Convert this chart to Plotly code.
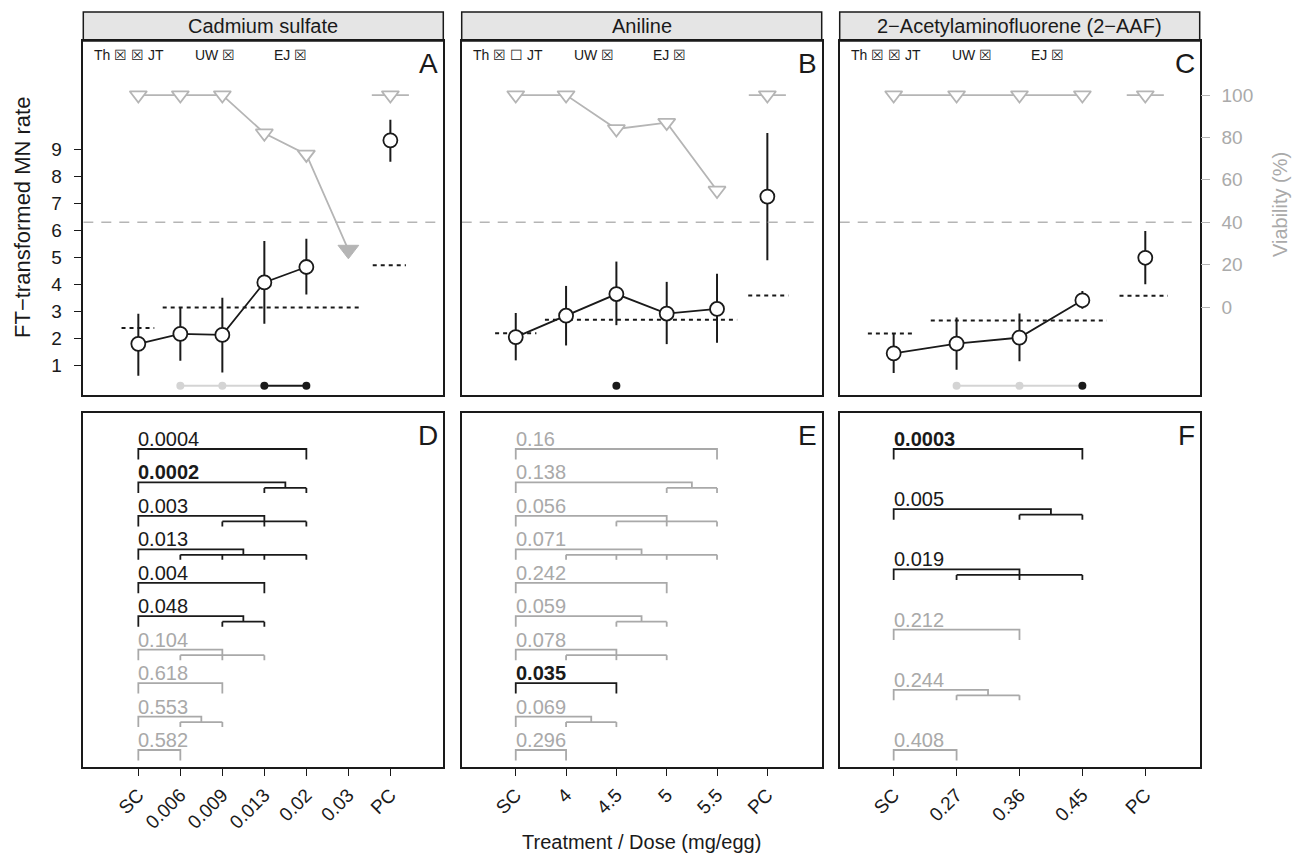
import plotly.graph_objects as go

# ---------------- data ----------------
compounds = ["Cadmium sulfate", "Aniline", "2−Acetylaminofluorene (2−AAF)"]
top_letters = ["A", "B", "C"]
bot_letters = ["D", "E", "F"]
lab_headers = [["Th ☒ ☒ JT", "UW ☒", "EJ ☒"],
               ["Th ☒ ☐ JT", "UW ☒", "EJ ☒"],
               ["Th ☒ ☒ JT", "UW ☒", "EJ ☒"]]

# Cadmium sulfate
cd_ticks = ["SC", "0.006", "0.009", "0.013", "0.02", "0.03", "PC"]
cd_mn = [1.81, 2.18, 2.14, 4.08, 4.65, None, 9.33]
cd_lo = [0.63, 1.19, 0.75, 2.55, 3.63, None, 8.54]
cd_hi = [2.92, 3.16, 3.51, 5.61, 5.69, None, 10.09]
cd_via = [100, 100, 100, 82, 72, 27, 100]
cd_lethal = [0, 0, 0, 0, 0, 1, 0]
cd_trend = ["", "ns", "ns", "sig", "sig", "", ""]
cd_ref_x0 = [0.60, 1.58, 6.58]
cd_ref_x1 = [1.38, 6.32, 7.37]
cd_ref_y = [2.40, 3.15, 4.71]
cd_p = ["0.0004", "0.0002", "0.003", "0.013", "0.004", "0.048", "0.104", "0.618", "0.553", "0.582"]
cd_p_val = [0.0004, 0.0002, 0.003, 0.013, 0.004, 0.048, 0.104, 0.618, 0.553, 0.582]
cd_groups = [[4], [3, 4], [2, 3, 4], [1, 2, 3, 4], [3], [2, 3], [1, 2, 3], [2], [1, 2], [1]]
cd_bold = [0, 1, 0, 0, 0, 0, 0, 0, 0, 0]

# Aniline
an_ticks = ["SC", "4", "4.5", "5", "5.5", "PC"]
an_mn = [2.06, 2.85, 3.65, 2.93, 3.10, 7.25]
an_lo = [1.20, 1.75, 2.50, 1.80, 1.85, 4.90]
an_hi = [2.95, 3.95, 4.85, 4.10, 4.40, 9.60]
an_via = [100, 100, 84, 87, 55, 100]
an_lethal = [0, 0, 0, 0, 0, 0]
an_trend = ["", "", "sig", "", "", ""]
an_ref_x0 = [0.59, 1.58, 5.62]
an_ref_x1 = [1.41, 5.40, 6.42]
an_ref_y = [2.20, 2.70, 3.60]
an_p = ["0.16", "0.138", "0.056", "0.071", "0.242", "0.059", "0.078", "0.035", "0.069", "0.296"]
an_p_val = [0.16, 0.138, 0.056, 0.071, 0.242, 0.059, 0.078, 0.035, 0.069, 0.296]
an_groups = [[4], [3, 4], [2, 3, 4], [1, 2, 3, 4], [3], [2, 3], [1, 2, 3], [2], [1, 2], [1]]
an_bold = [0, 0, 0, 0, 0, 0, 0, 1, 0, 0]

# 2-AAF
aaf_ticks = ["SC", "0.27", "0.36", "0.45", "PC"]
aaf_mn = [1.46, 1.82, 2.04, 3.42, 4.99]
aaf_lo = [0.73, 0.85, 1.17, 3.11, 4.01]
aaf_hi = [2.19, 2.78, 2.93, 3.76, 5.98]
aaf_via = [100, 100, 100, 100, 100]
aaf_lethal = [0, 0, 0, 0, 0]
aaf_trend = ["", "ns", "ns", "sig", ""]
aaf_ref_x0 = [0.59, 1.59, 4.59]
aaf_ref_x1 = [1.35, 4.39, 5.36]
aaf_ref_y = [2.19, 2.67, 3.59]
aaf_p = ["0.0003", "0.005", "0.019", "0.212", "0.244", "0.408"]
aaf_p_val = [0.0003, 0.005, 0.019, 0.212, 0.244, 0.408]
aaf_groups = [[3], [2, 3], [1, 2, 3], [2], [1, 2], [1]]
aaf_bold = [1, 0, 0, 0, 0, 0]

viability_threshold = 40
trend_row = 0.26

# ---------------- layout constants ----------------
W, H = 1292, 855
COLS = [(83.3, 443.3), (461.7, 821.7), (839.7, 1199.7)]
TOP = (41.0, 395.0)
BOT = (413.3, 766.7)
STRIP = (12.0, 41.0)
XR = [(-0.31, 8.26), (-0.074, 7.08), (0.142, 5.865)]
MN_RANGE = [-0.08, 13.0]
VIA_RANGE = [-41.5, 125.5]
BLACK = "#1a1a1a"
GREY = "#b5b5b5"
LGREY = "#d4d4d4"
TXTGREY = "#aaaaaa"
FONT = "Liberation Sans, Arial, sans-serif"

panels = [
    dict(ticks=cd_ticks, mn=cd_mn, lo=cd_lo, hi=cd_hi, via=cd_via, lethal=cd_lethal,
         trend=cd_trend, rx0=cd_ref_x0, rx1=cd_ref_x1, ry=cd_ref_y,
         p=cd_p, pv=cd_p_val, groups=cd_groups, bold=cd_bold),
    dict(ticks=an_ticks, mn=an_mn, lo=an_lo, hi=an_hi, via=an_via, lethal=an_lethal,
         trend=an_trend, rx0=an_ref_x0, rx1=an_ref_x1, ry=an_ref_y,
         p=an_p, pv=an_p_val, groups=an_groups, bold=an_bold),
    dict(ticks=aaf_ticks, mn=aaf_mn, lo=aaf_lo, hi=aaf_hi, via=aaf_via, lethal=aaf_lethal,
         trend=aaf_trend, rx0=aaf_ref_x0, rx1=aaf_ref_x1, ry=aaf_ref_y,
         p=aaf_p, pv=aaf_p_val, groups=aaf_groups, bold=aaf_bold),
]


def aname(kind, n):
    return kind + ("axis" if n == 1 else "axis%d" % n)


def ref(kind, n):
    return kind if n == 1 else "%s%d" % (kind, n)


def ptext(x, y, text, size, color=BLACK, xanchor="center", yanchor="middle", angle=0):
    return dict(x=x / W, y=1 - y / H, xref="paper", yref="paper", showarrow=False,
                xanchor=xanchor, yanchor=yanchor, text=text, textangle=angle,
                font=dict(size=size, color=color, family=FONT))


fig = go.Figure()
layout = {}
annotations = []
shapes = []

for c, P in enumerate(panels):
    n = len(P["ticks"])
    idx = list(range(1, n + 1))
    xt, yt, yv = c + 1, c + 1, c + 4
    xb, yb = c + 4, c + 7
    xdom = [COLS[c][0] / W, COLS[c][1] / W]
    ydom_top = [1 - TOP[1] / H, 1 - TOP[0] / H]
    ydom_bot = [1 - BOT[1] / H, 1 - BOT[0] / H]

    frame = dict(showline=True, mirror=True, linecolor=BLACK, linewidth=1.5,
                 showgrid=False, zeroline=False)
    layout[aname("x", xt)] = dict(frame, domain=xdom, range=list(XR[c]), anchor=ref("y", yt),
                                  showticklabels=False, ticks="")
    ytop = dict(frame, domain=ydom_top, range=MN_RANGE, anchor=ref("x", xt))
    if c == 0:
        ytop.update(tickvals=list(range(1, 10)), ticks="outside", ticklen=8, tickwidth=1.2,
                    tickcolor=BLACK, tickfont=dict(size=19, color=BLACK, family=FONT),
                    ticklabelstandoff=8)
    else:
        ytop.update(showticklabels=False, ticks="")
    layout[aname("y", yt)] = ytop
    yvia = dict(overlaying=ref("y", yt), anchor=ref("x", xt), range=VIA_RANGE,
                showgrid=False, zeroline=False, showline=False)
    if c == 2:
        yvia.update(side="right", tickvals=[0, 20, 40, 60, 80, 100], ticks="outside", ticklen=9,
                    tickwidth=1.2, tickcolor=GREY,
                    tickfont=dict(size=19, color=TXTGREY, family=FONT), ticklabelstandoff=8)
    else:
        yvia.update(visible=False)
    layout[aname("y", yv)] = yvia

    layout[aname("x", xb)] = dict(frame, domain=xdom, range=list(XR[c]), anchor=ref("y", yb),
                                  tickvals=idx, ticktext=P["ticks"], ticks="outside", ticklen=8,
                                  tickwidth=1.2, tickcolor=BLACK, tickangle=-45,
                                  tickfont=dict(size=19, color=BLACK, family=FONT))
    nrow = len(P["p"])
    ppr = 301.0 / (nrow - 1)
    layout[aname("y", yb)] = dict(frame, domain=ydom_bot,
                                  range=[(nrow - 1) + 16.7 / ppr, -35.7 / ppr],
                                  anchor=ref("x", xb), showticklabels=False, ticks="")

    X, Y, YV = ref("x", xt), ref("y", yt), ref("y", yv)

    # 40 % viability threshold
    fig.add_trace(go.Scatter(x=[XR[c][0], XR[c][1]], y=[viability_threshold] * 2, xaxis=X, yaxis=YV,
                             mode="lines", line=dict(color=GREY, width=1.5, dash="10px,8px"),
                             hoverinfo="skip", showlegend=False))

    # reference (control range) dotted lines
    for x0, x1, yy in zip(P["rx0"], P["rx1"], P["ry"]):
        fig.add_trace(go.Scatter(x=[x0, x1], y=[yy, yy], xaxis=X, yaxis=Y, mode="lines",
                                 line=dict(color=BLACK, width=2, dash="4px,4px"),
                                 hoverinfo="skip", showlegend=False))

    # trend-test dots
    tx = [i for i, t in zip(idx, P["trend"]) if t]
    tc = [BLACK if t == "sig" else LGREY for t in P["trend"] if t]
    for k in range(len(tx) - 1):
        col = BLACK if (tc[k] == BLACK and tc[k + 1] == BLACK) else LGREY
        fig.add_trace(go.Scatter(x=[tx[k], tx[k + 1]], y=[trend_row] * 2, xaxis=X, yaxis=Y,
                                 mode="lines", line=dict(color=col, width=2),
                                 hoverinfo="skip", showlegend=False))
    fig.add_trace(go.Scatter(x=tx, y=[trend_row] * len(tx), xaxis=X, yaxis=Y, mode="markers",
                             marker=dict(size=8, color=tc, line=dict(width=0)),
                             hoverinfo="skip", showlegend=False))

    # MN line (SC + doses) and points with error bars
    dose_x = [i for i, m in zip(idx[:-1], P["mn"][:-1]) if m is not None]
    dose_y = [m for m in P["mn"][:-1] if m is not None]
    fig.add_trace(go.Scatter(x=dose_x, y=dose_y, xaxis=X, yaxis=Y, mode="lines",
                             line=dict(color=BLACK, width=1.8), hoverinfo="skip", showlegend=False))
    px_, py_, eu, ed = [], [], [], []
    for i, m, lo, hi in zip(idx, P["mn"], P["lo"], P["hi"]):
        if m is None:
            continue
        px_.append(i); py_.append(m); eu.append(hi - m); ed.append(m - lo)
    fig.add_trace(go.Scatter(x=px_, y=py_, xaxis=X, yaxis=Y, mode="markers",
                             marker=dict(symbol="circle", size=14, color="white",
                                         line=dict(color=BLACK, width=1.8)),
                             error_y=dict(type="data", symmetric=False, array=eu, arrayminus=ed,
                                          color=BLACK, thickness=2, width=0),
                             hoverinfo="skip", showlegend=False))

    # viability
    fig.add_trace(go.Scatter(x=idx[:-1], y=P["via"][:-1], xaxis=X, yaxis=YV, mode="lines",
                             line=dict(color=GREY, width=1.8), hoverinfo="skip", showlegend=False))
    fig.add_trace(go.Scatter(x=[idx[-1]], y=[P["via"][-1]], xaxis=X, yaxis=YV, mode="markers",
                             marker=dict(symbol="line-ew", size=26.5, line=dict(color=GREY, width=1.8)),
                             hoverinfo="skip", showlegend=False))
    ox = [i for i, l in zip(idx, P["lethal"]) if not l]
    oy = [v for v, l in zip(P["via"], P["lethal"]) if not l]
    fig.add_trace(go.Scatter(x=ox, y=oy, xaxis=X, yaxis=YV, mode="markers",
                             marker=dict(symbol="triangle-down", size=15, color="white",
                                         line=dict(color=GREY, width=1.8)),
                             hoverinfo="skip", showlegend=False))
    lx = [i for i, l in zip(idx, P["lethal"]) if l]
    ly = [v for v, l in zip(P["via"], P["lethal"]) if l]
    if lx:
        fig.add_trace(go.Scatter(x=lx, y=ly, xaxis=X, yaxis=YV, mode="markers",
                                 marker=dict(symbol="triangle-down", size=18, color=GREY,
                                             line=dict(color=GREY, width=1)),
                                 hoverinfo="skip", showlegend=False))

    # pairwise comparison brackets
    XB, YB = ref("x", xb), ref("y", yb)
    gl = 5.5 / ppr
    leg = 10.5 / ppr
    for r, (ptxt, pv, grp, bd) in enumerate(zip(P["p"], P["pv"], P["groups"], P["bold"])):
        col = BLACK if pv < 0.05 else "#a9a9a9"
        mem = [1 + g for g in grp]
        if len(mem) == 1:
            xs = [1, 1, mem[0], mem[0]]
            ys = [r + leg, r, r, r + leg]
        else:
            mid = (min(mem) + max(mem)) / 2.0
            xs = [1, 1, mid, mid, None, min(mem), max(mem)]
            ys = [r + leg, r, r, r + gl, None, r + gl, r + gl]
            for m in mem:
                xs += [None, m, m]
                ys += [None, r + gl, r + leg]
        fig.add_trace(go.Scatter(x=xs, y=ys, xaxis=XB, yaxis=YB, mode="lines",
                                 line=dict(color=col, width=1.8), hoverinfo="skip",
                                 showlegend=False, connectgaps=False))
        annotations.append(dict(x=1, y=r, xref=XB, yref=YB, xanchor="left", yanchor="middle",
                                yshift=10, xshift=-2, showarrow=False,
                                text=("<b>%s</b>" % ptxt) if bd else ptxt,
                                font=dict(size=20, color=col, family=FONT)))

    # strip header
    cx = (COLS[c][0] + COLS[c][1]) / 2.0
    cy = (STRIP[0] + STRIP[1]) / 2.0
    shapes.append(dict(type="rect", xref="paper", yref="paper",
                       x0=COLS[c][0] / W, x1=COLS[c][1] / W,
                       y0=1 - STRIP[1] / H, y1=1 - STRIP[0] / H,
                       fillcolor="#e5e5e5", line=dict(color=BLACK, width=1.5), layer="below"))
    annotations.append(ptext(cx, cy, compounds[c], 20))
    # panel letters
    annotations.append(ptext(COLS[c][1] - 3, TOP[0] + 22, top_letters[c], 28, xanchor="right"))
    annotations.append(ptext(COLS[c][1] - 3, BOT[0] + 22, bot_letters[c], 28, xanchor="right"))
    # lab headers
    for off, txt in zip([9, 110, 189], lab_headers[c]):
        annotations.append(ptext(COLS[c][0] + off, 55, txt, 14, xanchor="left"))

annotations.append(ptext(22, 218, "FT−transformed MN rate", 22, angle=-90))
annotations.append(ptext(1280, 205, "Viability (%)", 20, color=TXTGREY, angle=-90))
annotations.append(ptext(641.7, 842, "Treatment / Dose (mg/egg)", 20))

fig.update_layout(width=W, height=H, margin=dict(l=0, r=0, t=0, b=0),
                  paper_bgcolor="white", plot_bgcolor="white",
                  font=dict(family=FONT, color=BLACK), showlegend=False,
                  annotations=annotations, shapes=shapes, **layout)

fig.write_html("out.html")
